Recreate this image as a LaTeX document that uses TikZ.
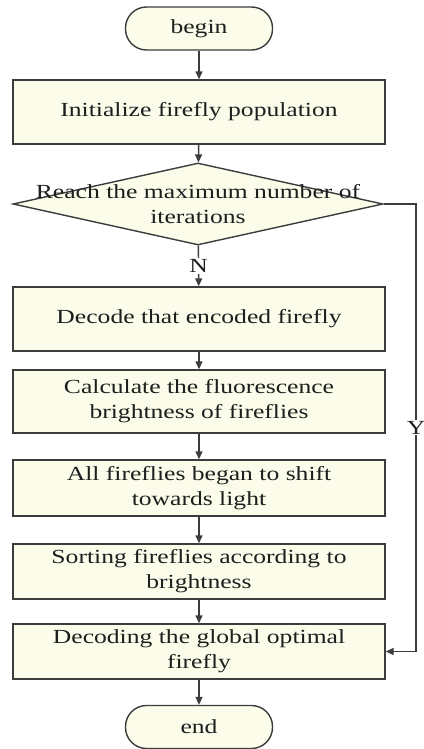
\documentclass[tikz,border=0pt]{standalone}
\usepackage{fontspec}
\setmainfont{Liberation Serif}[FakeStretch=1.28]
\usetikzlibrary{arrows.meta,shapes.geometric}
\definecolor{Cream}{HTML}{FCFCEB}
\definecolor{Edge}{HTML}{3C3C3C}
\definecolor{Ink}{HTML}{1E1E1E}
\tikzset{
 block/.style={draw=Edge, line width=1.4pt, fill=Cream, minimum width=372pt, text=Ink, align=center, inner sep=0pt, font=\fontsize{20}{25}\selectfont},
 terminal/.style={block, rounded corners=21pt, minimum width=147pt, minimum height=43pt},
 decision/.style={draw=Edge, line width=1.4pt, fill=Cream, diamond, inner sep=0pt, minimum width=370pt, minimum height=82pt},
 flowtext/.style={text=Ink, align=center, font=\fontsize{20}{25}\selectfont},
 arrow/.style={-{Triangle[length=8pt,width=7pt]}, line width=1.4pt, draw=Edge},
 tag/.style={flowtext, fill=white, inner sep=1pt}
}
\begin{document}
\begin{tikzpicture}[x=1pt,y=-1pt]
\useasboundingbox (0,0) rectangle (423,749);
\node[terminal] (start) at (199,28.5) {begin};
\node[block, minimum height=64pt] (init) at (199,112) {Initialize firefly population};
\node[decision] (reach) at (198,204) {};
\node[flowtext] (reachtext) at (reach) {Reach the maximum number of\\iterations};
\node[block, minimum height=64pt] (decode) at (199,319) {Decode that encoded firefly};
\node[block, minimum height=63pt] (calc) at (199,401.5) {Calculate the fluorescence\\brightness of fireflies};
\node[block, minimum height=56pt] (shift) at (199,488) {All fireflies began to shift\\towards light};
\node[block, minimum height=55pt] (sort) at (199,571.5) {Sorting fireflies according to\\brightness};
\node[block, minimum height=55pt] (best) at (199,651.5) {Decoding the global optimal\\firefly};
\node[terminal] (stop) at (199,727) {end};
\coordinate (ycorner) at (416,204);
\draw[arrow] (start) -- (init);
\draw[arrow] (init) -- (reach);
\draw[arrow] (reach) -- node[tag]{N} (decode);
\draw[arrow] (decode) -- (calc);
\draw[arrow] (calc) -- (shift);
\draw[arrow] (shift) -- (sort);
\draw[arrow] (sort) -- (best);
\draw[arrow] (best) -- (stop);
\draw[arrow] (reach.east) -- (ycorner) |- node[tag, pos=0.25]{Y} (best.east);
\end{tikzpicture}
\end{document}
